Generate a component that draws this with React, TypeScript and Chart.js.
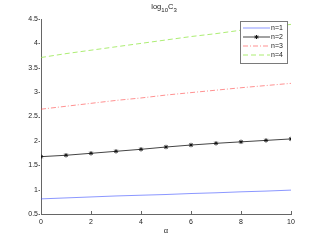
import React, { useEffect, useRef } from "react";
import { Chart, registerables } from "chart.js";

Chart.register(...registerables);

const alpha = [0, 1, 2, 3, 4, 5, 6, 7, 8, 9, 10];
const n1 = [0.81, 0.83, 0.85, 0.87, 0.885, 0.9, 0.92, 0.935, 0.955, 0.97, 0.99];
const n2 = [1.676, 1.705, 1.745, 1.786, 1.827, 1.874, 1.915, 1.95, 1.98, 2.01, 2.04];
const n3 = [2.65, 2.71, 2.77, 2.83, 2.88, 2.94, 2.99, 3.04, 3.09, 3.135, 3.18];
const n4 = [3.71, 3.79, 3.86, 3.93, 4.0, 4.07, 4.14, 4.2, 4.27, 4.33, 4.39];
const seriesLabels = ["n=1", "n=2", "n=3", "n=4"];
const xTicks = [0, 2, 4, 6, 8, 10];
const yTicks = [0.5, 1, 1.5, 2, 2.5, 3, 3.5, 4, 4.5];

const FONT = "'Liberation Sans', Arial, sans-serif";

const pts = (ys: number[]) => alpha.map((a, i) => ({ x: a, y: ys[i] }));

const decorPlugin = {
  id: "decor",
  afterDraw(chart: any) {
    const ctx = chart.ctx;
    const xs = chart.scales.x;
    const ys = chart.scales.y;
    const area = chart.chartArea;
    ctx.save();
    // tick marks
    ctx.strokeStyle = "#666";
    ctx.lineWidth = 1;
    ctx.beginPath();
    xTicks.forEach((t) => {
      const px = Math.round(xs.getPixelForValue(t)) + 0.5;
      ctx.moveTo(px, area.bottom);
      ctx.lineTo(px, area.bottom - 3);
    });
    yTicks.forEach((t) => {
      const py = Math.round(ys.getPixelForValue(t)) + 0.5;
      ctx.moveTo(area.left - 2.5, py);
      ctx.lineTo(area.left - 1, py);
    });
    ctx.stroke();

    // title log10C3
    ctx.fillStyle = "#222";
    ctx.textBaseline = "alphabetic";
    ctx.textAlign = "left";
    const big = `7.5px ${FONT}`;
    const small = `6px ${FONT}`;
    const parts: [string, string, number][] = [
      ["log", big, 0],
      ["10", small, 3],
      ["C", big, 0],
      ["3", small, 3],
    ];
    let total = 0;
    parts.forEach(([s, f]) => {
      ctx.font = f;
      total += ctx.measureText(s).width;
    });
    let x = 164 - total / 2;
    parts.forEach(([s, f, dy]) => {
      ctx.font = f;
      ctx.fillText(s, x, 9 + dy);
      x += ctx.measureText(s).width;
    });

    // x label
    ctx.font = `7.5px ${FONT}`;
    ctx.textAlign = "center";
    ctx.textBaseline = "middle";
    ctx.fillText("\u03b1", (area.left + area.right) / 2, 231);

    // legend
    const lx = 240.5, ly = 21.5, lw = 47, lh = 42;
    ctx.fillStyle = "#fff";
    ctx.fillRect(lx, ly, lw, lh);
    ctx.strokeStyle = "#7a7a7a";
    ctx.lineWidth = 1;
    ctx.strokeRect(lx, ly, lw, lh);
    chart.data.datasets.forEach((ds: any, i: number) => {
      const yy = 28 + i * 9;
      ctx.save();
      ctx.strokeStyle = ds.borderColor;
      ctx.lineWidth = ds.borderWidth;
      ctx.setLineDash(ds.borderDash || []);
      ctx.beginPath();
      ctx.moveTo(243, yy);
      ctx.lineTo(270, yy);
      ctx.stroke();
      ctx.restore();
      if (ds.pointRadius > 0) {
        ctx.save();
        ctx.strokeStyle = ds.pointBorderColor;
        ctx.lineWidth = 1;
        const r = 2;
        const cx = 256.5;
        ctx.beginPath();
        ctx.moveTo(cx - r, yy); ctx.lineTo(cx + r, yy);
        ctx.moveTo(cx, yy - r); ctx.lineTo(cx, yy + r);
        ctx.moveTo(cx - r * 0.7, yy - r * 0.7); ctx.lineTo(cx + r * 0.7, yy + r * 0.7);
        ctx.moveTo(cx - r * 0.7, yy + r * 0.7); ctx.lineTo(cx + r * 0.7, yy - r * 0.7);
        ctx.stroke();
        ctx.restore();
      }
      ctx.fillStyle = "#222";
      ctx.font = `7px ${FONT}`;
      ctx.textAlign = "left";
      ctx.textBaseline = "middle";
      ctx.fillText(ds.label, 271, yy + 0.5);
    });
    ctx.restore();
  },
};

export default function App() {
  const ref = useRef<HTMLCanvasElement>(null);
  useEffect(() => {
    if (!ref.current) return;
    const chart = new Chart(ref.current, {
      type: "line",
      data: {
        datasets: [
          {
            label: seriesLabels[0],
            data: pts(n1),
            borderColor: "rgba(60,80,255,0.75)",
            borderWidth: 0.8,
            pointRadius: 0,
          },
          {
            label: seriesLabels[1],
            data: pts(n2),
            borderColor: "#444",
            borderWidth: 1,
            pointRadius: 2.2,
            pointStyle: "star",
            pointBorderColor: "#111",
            pointBackgroundColor: "#111",
            pointBorderWidth: 0.9,
          },
          {
            label: seriesLabels[2],
            data: pts(n3),
            borderColor: "rgba(255,70,70,0.75)",
            borderWidth: 0.8,
            borderDash: [5, 2, 1, 2],
            pointRadius: 0,
          },
          {
            label: seriesLabels[3],
            data: pts(n4),
            borderColor: "rgba(140,230,60,0.8)",
            borderWidth: 0.9,
            borderDash: [5, 3],
            pointRadius: 0,
          },
        ],
      },
      options: {
        animation: false,
        responsive: false,
        devicePixelRatio: 1,
        layout: { padding: { top: 19, right: 30, left: 0, bottom: 0 } },
        plugins: { legend: { display: false }, tooltip: { enabled: false }, title: { display: false } },
        scales: {
          x: {
            type: "linear",
            min: 0,
            max: 10,
            afterFit: (s: any) => { s.height = 28; },
            afterBuildTicks: (s: any) => { s.ticks = xTicks.map((v) => ({ value: v })); },
            ticks: { font: { size: 7, family: FONT }, color: "#222", padding: 4, maxRotation: 0, callback: (v: any) => String(v) },
            grid: { display: true, drawOnChartArea: false, drawTicks: false, tickLength: 0 },
            border: { display: true, color: "#666", width: 1 },
          },
          y: {
            type: "linear",
            min: 0.5,
            max: 4.5,
            afterFit: (s: any) => { s.width = 41; },
            afterBuildTicks: (s: any) => { s.ticks = yTicks.map((v) => ({ value: v })); },
            ticks: { font: { size: 7, family: FONT }, color: "#222", padding: 3, callback: (v: any) => String(v) },
            grid: { display: true, drawOnChartArea: false, drawTicks: false, tickLength: 0 },
            border: { display: true, color: "#666", width: 1 },
          },
        },
      },
      plugins: [decorPlugin],
    });
    return () => chart.destroy();
  }, []);
  return (
    <div style={{ position: "fixed", left: 0, top: 0, width: 321, height: 242, background: "#fff" }}>
      <canvas ref={ref} width={321} height={242} />
    </div>
  );
}
